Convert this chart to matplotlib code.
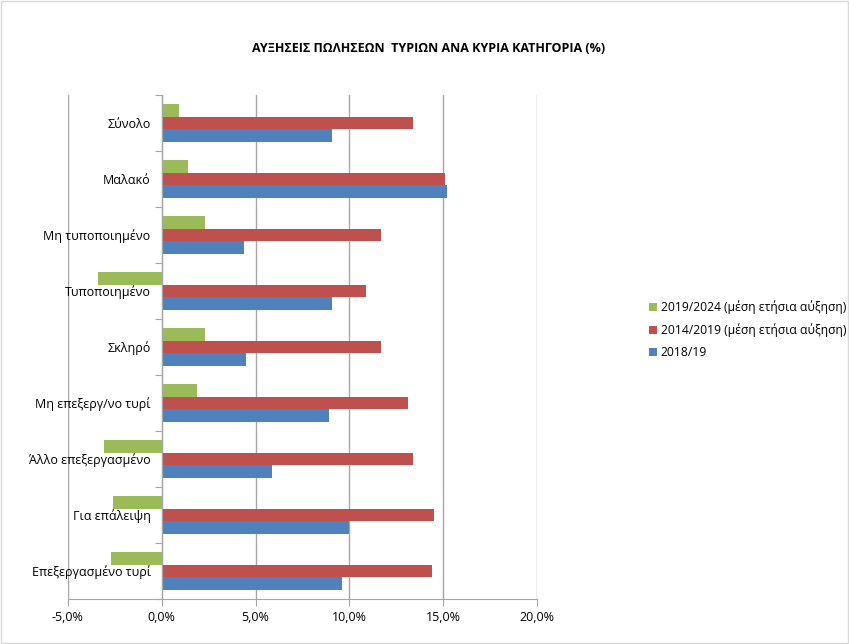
import numpy as np
import matplotlib
matplotlib.use("Agg")
import matplotlib.pyplot as plt
from matplotlib.patches import Rectangle
from matplotlib.ticker import FuncFormatter, FixedLocator

plt.rcParams['font.family'] = ['Open Sans', 'DejaVu Sans']

categories = ["Σύνολο", "Μαλακό", "Μη τυποποιημένο", "Τυποποιημένο", "Σκληρό",
              "Μη επεξεργ/νο τυρί", "Άλλο επεξεργασμένο", "Για επάλειψη",
              "Επεξεργασμένο τυρί"]
g_2019_2024 = [0.9, 1.4, 2.3, -3.4, 2.3, 1.9, -3.1, -2.6, -2.7]
r_2014_2019 = [13.4, 15.1, 11.7, 10.9, 11.7, 13.1, 13.4, 14.5, 14.4]
b_2018_19 = [9.1, 15.2, 4.4, 9.1, 4.5, 8.9, 5.9, 10.0, 9.6]
series_labels = ["2019/2024 (μέση ετήσια αύξηση)", "2014/2019 (μέση ετήσια αύξηση)", "2018/19"]
colors = ["#9BBB59", "#C0504D", "#4F81BD"]

fig = plt.figure(figsize=(8.49, 6.44), dpi=100)
fig.patches.append(Rectangle((0.001, 0.001), 0.998, 0.997, transform=fig.transFigure,
                             fill=False, edgecolor="#D9D9D9", linewidth=1))
ax = fig.add_axes([0.080, 0.070, 0.5525, 0.7825])

n = len(categories)
y = np.arange(n)[::-1].astype(float)
h = 0.223
handles = []
for k, (vals, c) in enumerate(zip([g_2019_2024, r_2014_2019, b_2018_19], colors)):
    bars = ax.barh(y + h * (1 - k), vals, height=h, color=c, label=series_labels[k])
    handles.append(bars)

ax.set_xlim(-5, 20)
ax.set_ylim(-0.5, n - 0.5)
ax.set_xticks([-5, 0, 5, 10, 15, 20])
ax.xaxis.set_major_formatter(FuncFormatter(lambda v, p: ("%.1f%%" % v).replace(".", ",")))
ax.grid(axis='x', color="#A6A6A6", linewidth=1)
ax.set_axisbelow(True)

for s in ['top', 'right']:
    ax.spines[s].set_visible(False)
ax.spines['left'].set_position(('data', 0))
ax.spines['left'].set_color("#A6A6A6")
ax.spines['bottom'].set_color("#A6A6A6")

ax.yaxis.set_major_locator(FixedLocator(np.arange(-0.5, n, 1.0)))
ax.yaxis.set_major_formatter(FuncFormatter(lambda v, p: ""))
ax.yaxis.set_minor_locator(FixedLocator(y))
ax.set_yticklabels(categories, minor=True)
ax.tick_params(axis='y', which='major', length=5, color="#A6A6A6")
ax.tick_params(axis='y', which='minor', length=0, pad=8, labelsize=9)
ax.tick_params(axis='x', length=5, color="#A6A6A6", labelsize=9, pad=4)

fig.text(0.505, 0.925, "ΑΥΞΗΣΕΙΣ ΠΩΛΗΣΕΩΝ  ΤΥΡΙΩΝ ΑΝΑ ΚΥΡΙΑ ΚΑΤΗΓΟΡΙΑ (%)",
         ha='center', va='center', fontsize=9, fontweight='bold')

leg = fig.legend(handles=handles, labels=series_labels, loc='center left',
                 bbox_to_anchor=(0.754, 0.488), frameon=False, fontsize=8.7,
                 handlelength=0.7, handleheight=0.7, handletextpad=0.3,
                 labelspacing=0.75, borderpad=0.2)

fig.savefig("out.png", dpi=100)
